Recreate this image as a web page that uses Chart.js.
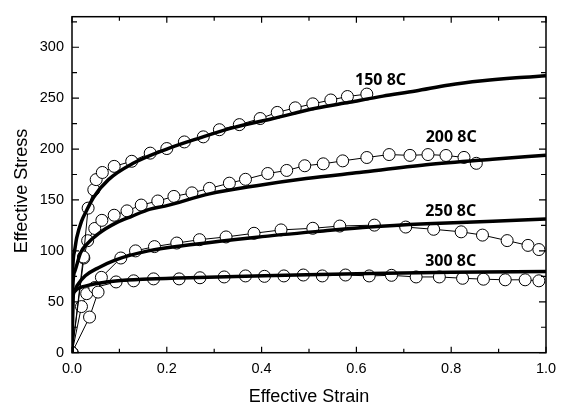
<!DOCTYPE html>
<html>
<head>
<meta charset="utf-8">
<script src="https://cdn.jsdelivr.net/npm/chart.js@4.4.1/dist/chart.umd.min.js"></script>
<style>
  body { margin: 0; background: #fff; }
  #wrap { width: 566px; height: 410px; }
</style>
</head>
<body>
<div id="wrap"><canvas id="stress-chart" width="566" height="410"></canvas></div>
<script>
// measured points [strain, stress]
const exp150 = [[0,0],[0.024,94],[0.034,142],[0.046,160],[0.051,170],[0.064,177],[0.089,183],[0.126,188],[0.165,196],[0.2,200.5],[0.237,207],[0.277,212],[0.311,219],[0.353,224],[0.397,230],[0.433,236],[0.471,240.5],[0.508,244.4],[0.546,248.2],[0.581,251.6],[0.622,254]];
const exp200 = [[0,0],[0.025,93],[0.033,110],[0.048,122],[0.063,130],[0.089,135],[0.116,139.3],[0.146,145],[0.181,149],[0.215,153.5],[0.253,157],[0.29,161.4],[0.332,166.5],[0.366,170.3],[0.413,176],[0.453,179],[0.491,183.6],[0.53,185.5],[0.571,188.4],[0.622,191.7],[0.669,194.6],[0.713,193.8],[0.751,194.6],[0.789,193.7],[0.827,191.8],[0.853,186]];
const exp250 = [[0,0],[0.037,35],[0.055,59.5],[0.062,74],[0.103,93],[0.134,100],[0.174,104.2],[0.221,107.7],[0.269,111],[0.325,113.7],[0.384,117.3],[0.441,120.6],[0.508,122.2],[0.565,124.4],[0.638,125.3],[0.704,123.4],[0.763,121.2],[0.821,118.7],[0.866,115.5],[0.918,110.1],[0.962,105.4],[0.985,101.3]];
const exp300 = [[0,0],[0.02,45.3],[0.031,58],[0.048,64],[0.093,69.5],[0.13,70.6],[0.172,72.5],[0.226,72.5],[0.27,73.6],[0.321,74.4],[0.366,75.4],[0.406,75],[0.447,75.4],[0.488,76.3],[0.528,75.4],[0.577,76.3],[0.627,75.4],[0.674,76],[0.726,74.4],[0.775,74.4],[0.824,73.1],[0.868,72.2],[0.914,71.6],[0.956,71.6],[0.985,70.6]];

// fitted curves [strain, stress]
const fit150 = [[0,0],[0.001,72],[0.005,99],[0.01,113],[0.02,129],[0.03,139],[0.046,153],[0.077,170],[0.129,186],[0.2,200],[0.27,211],[0.34,221],[0.424,230],[0.514,240],[0.585,246],[0.656,252],[0.725,257],[0.796,263],[0.866,267],[0.937,270],[1.0,272]];
const fit200 = [[0,0],[0.001,58],[0.006,80],[0.018,98],[0.03,106],[0.056,117],[0.095,128],[0.126,134],[0.165,141],[0.196,144],[0.29,156],[0.389,164],[0.494,171],[0.606,177],[0.747,184.5],[0.887,190],[1.0,194]];
const fit250 = [[0,0],[0.002,52],[0.005,60],[0.011,66],[0.028,75.5],[0.056,83.5],[0.091,91],[0.161,100],[0.249,106],[0.39,113.5],[0.53,119.6],[0.628,123.5],[0.748,126.6],[0.888,129.1],[1.0,131.3]];
const fit300 = [[0,0],[0.002,56],[0.005,60],[0.011,62.5],[0.042,67],[0.092,70.4],[0.162,72.3],[0.267,73.9],[0.45,76],[0.628,77.9],[0.8,79],[1.0,79.8]];

const curveLabels = ['150 8C', '200 8C', '250 8C', '300 8C'];
const labelStrain = [0.651, 0.80, 0.799, 0.799];
const labelStress = [269, 212.2, 139.5, 90.4];

const xTicks = [0, 0.2, 0.4, 0.6, 0.8, 1.0];
const xMinor = [0.1, 0.3, 0.5, 0.7, 0.9];
const yTicks = [0, 50, 100, 150, 200, 250, 300];
const yMinor = [25, 75, 125, 175, 225, 275, 325];

function toXY(arr) {
    return arr.map(p => ({ x: p[0], y: p[1] }));
}

function fitSet(arr) {
    return {
        data: toXY(arr),
        showLine: true,
        borderColor: '#000',
        borderWidth: 3.5,
        pointRadius: 0,
        cubicInterpolationMode: 'monotone',
        order: 0
    };
}

function expSet(arr) {
    return {
        data: toXY(arr),
        showLine: true,
        borderColor: '#000',
        borderWidth: 1,
        pointRadius: 6,
        pointBorderWidth: 1,
        pointBackgroundColor: '#fff',
        pointBorderColor: '#000',
        order: 1
    };
}

// frame, inward ticks, curve labels, axis titles
const framePlugin = {
    id: 'frame',
    afterDatasetsDraw(chart) {
        const ctx = chart.ctx;
        const a = chart.chartArea;
        const xs = chart.scales.x;
        const ys = chart.scales.y;
        ctx.save();
        ctx.strokeStyle = '#000';
        ctx.lineWidth = 1.5;
        ctx.strokeRect(a.left, a.top, a.right - a.left, a.bottom - a.top);

        ctx.lineWidth = 1.2;
        ctx.beginPath();
        xTicks.concat(xMinor).forEach(v => {
            const len = xTicks.includes(v) ? 6 : 4;
            const px = xs.getPixelForValue(v);
            ctx.moveTo(px, a.bottom); ctx.lineTo(px, a.bottom - len);
            ctx.moveTo(px, a.top); ctx.lineTo(px, a.top + len);
        });
        yTicks.concat(yMinor).forEach(v => {
            const len = yTicks.includes(v) ? 7 : 5;
            const py = ys.getPixelForValue(v);
            ctx.moveTo(a.left, py); ctx.lineTo(a.left + len, py);
            ctx.moveTo(a.right, py); ctx.lineTo(a.right - len, py);
        });
        ctx.stroke();

        ctx.fillStyle = '#000';
        ctx.font = 'bold 16px "Noto Sans"';
        ctx.textAlign = 'center';
        ctx.textBaseline = 'alphabetic';
        curveLabels.forEach((t, i) => {
            ctx.fillText(t, xs.getPixelForValue(labelStrain[i]), ys.getPixelForValue(labelStress[i]) + 5.7);
        });

        ctx.font = '18px "Liberation Sans"';
        ctx.fillText('Effective Strain', (a.left + a.right) / 2, 402);
        ctx.translate(26.5, 191);
        ctx.rotate(-Math.PI / 2);
        ctx.fillText('Effective Stress', 0, 0);
        ctx.restore();
    }
};

const ctx = document.getElementById('stress-chart').getContext('2d');
new Chart(ctx, {
    type: 'scatter',
    data: {
        datasets: [
            fitSet(fit150), fitSet(fit200), fitSet(fit250), fitSet(fit300),
            expSet(exp150), expSet(exp200), expSet(exp250), expSet(exp300)
        ]
    },
    options: {
        responsive: false,
        animation: false,
        devicePixelRatio: 1,
        layout: { padding: { left: 0, top: 5, right: 20, bottom: 0 } },
        plugins: {
            legend: { display: false },
            tooltip: { enabled: false }
        },
        scales: {
            x: {
                type: 'linear',
                min: 0,
                max: 1,
                afterBuildTicks: s => { s.ticks = xTicks.map(v => ({ value: v })); },
                afterFit: s => { s.height = 410 - 352.7; },
                grid: { display: false, drawTicks: false },
                border: { display: false },
                ticks: {
                    padding: 8,
                    color: '#000',
                    font: { family: 'Liberation Sans', size: 14.5 },
                    maxRotation: 0,
                    callback: v => v.toFixed(1)
                }
            },
            y: {
                type: 'linear',
                min: 0,
                max: 330,
                afterBuildTicks: s => { s.ticks = yTicks.map(v => ({ value: v })); },
                afterFit: s => { s.width = 72; },
                grid: { display: false, drawTicks: false },
                border: { display: false },
                ticks: {
                    padding: 8,
                    color: '#000',
                    font: { family: 'Liberation Sans', size: 14.5 }
                }
            }
        }
    },
    plugins: [framePlugin]
});
</script>
</body>
</html>
